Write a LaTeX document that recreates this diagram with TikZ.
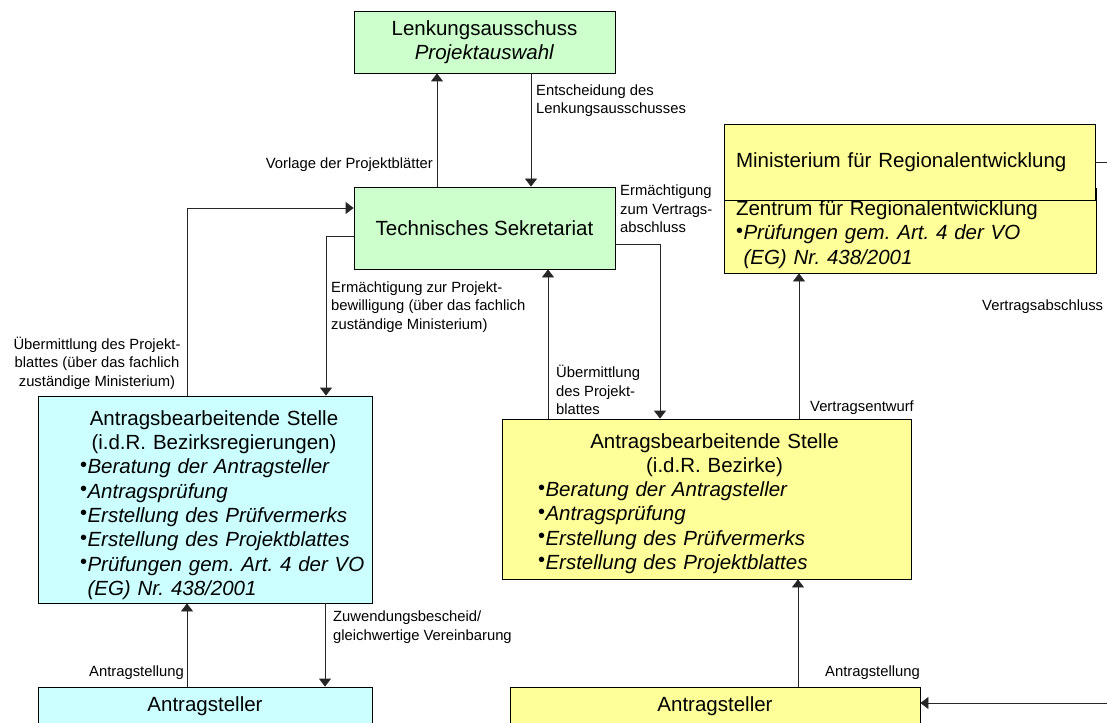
\documentclass[tikz,border=0pt]{standalone}
\usepackage{fontspec}
\setmainfont{Liberation Sans}
\usetikzlibrary{arrows.meta}

\definecolor{gruen}{HTML}{CCFFCC}
\definecolor{blau}{HTML}{CCFFFF}
\definecolor{gelb}{HTML}{FFFF99}

\frenchspacing
\newcommand{\pkt}{\raisebox{2.6pt}{\fontsize{20}{20}\selectfont\textbullet}\hspace{0.5pt}}

\tikzset{
  kasten/.style={draw=black, line width=0.8pt, inner sep=0pt, font=\fontsize{20.5}{24.3}\selectfont},
  inhalt/.style={inner sep=0pt, font=\fontsize{20.5}{24.3}\selectfont},
  notiz/.style={font=\fontsize{14.8}{18.5}\selectfont, inner sep=0pt},
  pfeil/.style={->, draw=black!85, line width=0.8pt},
}

\begin{document}
\begin{tikzpicture}[x=1pt,y=-1pt,>={Triangle[width=12pt,length=8pt]}]
\useasboundingbox (0,0) rectangle (1107,722);
\clip (0,0) rectangle (1107,722);

% Lenkung
\node[kasten, fill=gruen, align=center, minimum width=261pt, minimum height=62pt] (lenk) at (484.5,42)
  {Lenkungsausschuss\\\textit{Projektauswahl}};
\node[kasten, fill=gruen, align=center, minimum width=261pt, minimum height=82pt] (ts) at (484.5,228)
  {Technisches Sekretariat};

% Ministerium und Zentrum
\node[kasten, fill=gelb, minimum width=372pt, minimum height=85pt] (zre) at (910,230.5) {};
\node[inhalt, text width=348pt] (zre-text) at ([yshift=-4pt]zre.center)
  {\leftline{Zentrum für Regionalentwicklung}
   \leftline{\pkt\textit{Prüfungen gem. Art. 4 der VO}}
   \leftline{\phantom{\pkt}\textit{(EG) Nr. 438/2001}}};
\node[kasten, fill=gelb, inner xsep=12pt, text width=347pt, minimum height=76pt] (mrd) at (909.5,162)
  {\leftline{Ministerium für Regionalentwicklung}};

% Antragsbearbeitende Stellen
\node[kasten, fill=blau, minimum width=334pt, minimum height=207pt] (absL) at (205,499.5) {};
\node[inhalt, text width=250pt] (absL-text) at ([yshift=-5.5pt]absL.center)
  {\centerline{\hspace*{18pt}Antragsbearbeitende Stelle}
   \centerline{\hspace*{18pt}(i.d.R. Bezirksregierungen)}
   \leftline{\pkt\textit{Beratung der Antragsteller}}
   \leftline{\pkt\textit{Antragsprüfung}}
   \leftline{\pkt\textit{Erstellung des Prüfvermerks}}
   \leftline{\pkt\textit{Erstellung des Projektblattes}}
   \leftline{\pkt\textit{Prüfungen gem. Art. 4 der VO}}
   \leftline{\phantom{\pkt}\textit{(EG) Nr. 438/2001}}};
\node[kasten, fill=gelb, minimum width=409pt, minimum height=160pt] (absR) at (706.5,499) {};
\node[inhalt, text width=337pt] (absR-text) at ([yshift=-4.5pt]absR.center)
  {\centerline{\hspace*{16pt}Antragsbearbeitende Stelle}
   \centerline{\hspace*{16pt}(i.d.R. Bezirke)}
   \leftline{\pkt\textit{Beratung der Antragsteller}}
   \leftline{\pkt\textit{Antragsprüfung}}
   \leftline{\pkt\textit{Erstellung des Prüfvermerks}}
   \leftline{\pkt\textit{Erstellung des Projektblattes}}};

% Antragsteller
\node[kasten, fill=blau, minimum width=334pt, minimum height=38pt] (astL) at (205,706) {Antragsteller};
\node[kasten, fill=gelb, minimum width=410pt, minimum height=38pt] (astR) at (715,706) {Antragsteller};

% Verbindungen
\draw[pfeil] (ts.north -| 437,0) -- (lenk.south -| 437,0);
\draw[pfeil] (lenk.south -| 531,0) -- (ts.north -| 531,0);
\draw[pfeil] (absL.north -| 187,0) |- ([yshift=20pt]ts.west);
\draw[pfeil] ([yshift=-8pt]ts.west) -| (absL.north -| 326,0);
\draw[pfeil] ([yshift=-16pt]ts.east) -| (absR.north -| 660,0);
\draw[pfeil] (absR.north -| 548,0) -- (ts.south -| 548,0);
\draw[pfeil] (absR.north -| 799,0) -- (zre.south -| 799,0);
\draw[pfeil] (mrd.east) -- ++(40,0) |- ([yshift=3pt]astR.east);
\draw[pfeil] (astL.north -| 187,0) -- (absL.south -| 187,0);
\draw[pfeil] (absL.south -| 325,0) -- (astL.north -| 325,0);
\draw[pfeil] (astR.north -| 798,0) -- (absR.south -| 798,0);

% Beschriftungen
\node[notiz, anchor=east] (t-vorlage) at (433,165) {Vorlage der Projektblätter};
\node[notiz, anchor=west, align=left] (t-entsch) at (536,100.5) {Entscheidung des\\Lenkungsausschusses};
\node[notiz, anchor=west, align=left] (t-ermv) at (620,209) {Ermächtigung\\zum Vertrags-\\abschluss};
\node[notiz, anchor=west, align=left] (t-ermp) at (331,307) {Ermächtigung zur Projekt-\\bewilligung (über das fachlich\\zuständige Ministerium)};
\node[notiz, align=center] (t-uebL) at (97,363) {Übermittlung des Projekt-\\blattes (über das fachlich\\zuständige Ministerium)};
\node[notiz, anchor=west, align=left] (t-uebR) at (556,390) {Übermittlung\\des Projekt-\\blattes};
\node[notiz, anchor=west] (t-entwurf) at (810,408) {Vertragsentwurf};
\node[notiz, anchor=west] (t-abschl) at (982,307) {Vertragsabschluss};
\node[notiz, anchor=west, align=left] (t-zuw) at (333,627) {Zuwendungsbescheid/\\gleichwertige Vereinbarung};
\node[notiz, anchor=east] (t-antrL) at (184,673) {Antragstellung};
\node[notiz, anchor=east] (t-antrR) at (920,673) {Antragstellung};

\end{tikzpicture}
\end{document}
